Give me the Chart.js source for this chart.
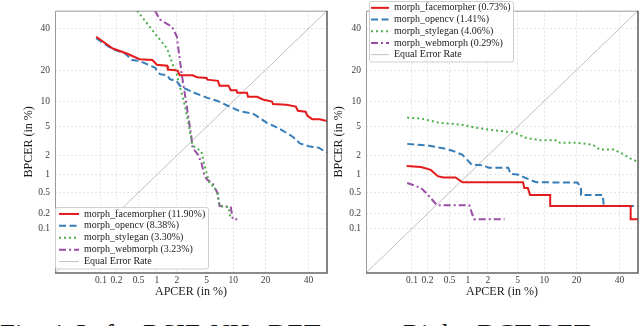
<!DOCTYPE html>
<html>
<head>
<meta charset="utf-8">
<script src="https://cdn.jsdelivr.net/npm/chart.js@4.4.1/dist/chart.umd.min.js"></script>
<style>
  html, body { margin: 0; padding: 0; background: #fff; width: 640px; height: 326px; overflow: hidden; }
  .panel { position: absolute; top: 0; }
  .cap { position: absolute; top: 321px; font-family: 'Liberation Serif', serif; font-size: 27px; line-height: 27px; color: #111; white-space: nowrap; }
</style>
</head>
<body>
<div class="panel" style="left:0"><canvas id="det-left" width="330" height="300"></canvas></div>
<div class="panel" style="left:330px"><canvas id="det-right" width="310" height="300"></canvas></div>
<span class="cap" style="left:0">Fig. 4. Left:</span>
<span class="cap" style="left:143px">RSIE-NH</span>
<span class="cap" style="left:268px">DET curves.</span>
<span class="cap" style="left:403px">Right: DCT-DET curves.</span>
<script>
// axis ticks (both axes, both plots), values in %
const tickPct = [0.1, 0.2, 0.5, 1, 2, 5, 10, 20, 40];
const tickText = ['0.1', '0.2', '0.5', '1', '2', '5', '10', '20', '40'];
const rangePct = [0.01, 50];

// Left: RSIE-NH  (APCER %, BPCER %)
const leftFaceApcer = [0.08, 0.17, 0.31, 0.52, 0.85, 1.0, 1.44, 1.48, 2.06, 2.2, 3.3, 3.8, 5.0, 5.1, 6.8, 7.1, 8.9, 9.4, 10.8, 11.0, 13.7, 14, 17, 19, 22.6, 23, 29, 33.5, 34.5, 38.5, 39.5, 42, 46, 50];
const leftFaceBpcer = [35.6, 29.6, 27.2, 24.6, 24.2, 22.2, 21.8, 20.2, 19.8, 18.0, 18.0, 17.3, 17.0, 16.4, 16.0, 14.4, 14.4, 13.0, 13.0, 12.2, 12.2, 11.1, 11.1, 10.4, 9.9, 9.3, 9.1, 8.7, 7.8, 7.6, 6.8, 6.2, 6.2, 5.9];
const leftOpenApcer = [0.08, 0.17, 0.29, 0.38, 0.52, 0.72, 0.93, 1.12, 1.44, 1.58, 2.0, 2.2, 2.6, 2.9, 3.6, 5.0, 6.6, 8.5, 11.7, 15.6, 20.6, 24.6, 27, 32, 35.5, 40.7, 45.5, 50];
const leftOpenBpcer = [34.8, 29.2, 27.2, 24.2, 23.8, 22.2, 21.0, 18.4, 18.0, 16.6, 15.9, 14.4, 13.5, 13.0, 12.1, 10.9, 10.1, 9.0, 7.7, 7.2, 5.6, 4.9, 4.5, 3.7, 3.0, 2.7, 2.6, 2.2];
const leftStyleApcer = [0.47, 0.93, 1.44, 1.75, 2.0, 2.2, 2.6, 2.9, 3.3, 4.3, 4.6, 5.0, 5.4, 6.1, 6.7, 7.1, 8.9, 9.4];
const leftStyleBpcer = [50, 37.4, 29.6, 22.2, 18.4, 14.2, 8.9, 5.6, 2.8, 2.3, 1.55, 1.05, 0.72, 0.63, 0.49, 0.28, 0.27, 0.155];
const leftWebApcer = [0.93, 1.12, 1.7, 2.0, 2.35, 2.75, 3.2, 3.3, 3.9, 4.3, 4.7, 5.1, 5.8, 6.7, 7.1, 9.4, 9.9, 11];
const leftWebBpcer = [50, 45, 41, 35.8, 18.4, 8.9, 3.5, 2.6, 2.05, 1.55, 0.95, 0.82, 0.74, 0.49, 0.28, 0.27, 0.155, 0.155];
const leftLabels = ['morph_facemorpher (11.90%)', 'morph_opencv (8.38%)', 'morph_stylegan (3.30%)', 'morph_webmorph (3.23%)', 'Equal Error Rate'];

// Right: DCT
const rightFaceApcer = [0.078, 0.15, 0.23, 0.31, 0.39, 0.63, 0.82, 5.8, 6.0, 6.6, 7.0, 11.5, 11.5, 46, 46, 50];
const rightFaceBpcer = [1.38, 1.33, 1.2, 0.95, 0.9, 0.9, 0.75, 0.75, 0.6, 0.6, 0.45, 0.45, 0.28, 0.28, 0.155, 0.155];
const rightOpenApcer = [0.08, 0.2, 0.39, 0.56, 0.82, 1.15, 1.75, 2.05, 3.8, 4.1, 5.3, 5.8, 8.2, 20.4, 21.8, 21.8, 31.5, 32, 50];
const rightOpenBpcer = [2.95, 2.8, 2.55, 2.35, 2.05, 1.45, 1.42, 1.3, 1.3, 1.03, 1.0, 0.92, 0.75, 0.74, 0.6, 0.45, 0.45, 0.28, 0.28];
const rightStyleApcer = [0.08, 0.15, 0.33, 0.8, 1.25, 2.0, 3.0, 4.6, 6.1, 9.3, 13.5, 14.3, 20.5, 24, 27, 30, 37, 42, 46, 50];
const rightStyleBpcer = [6.5, 6.3, 5.6, 5.3, 4.9, 4.6, 4.4, 4.2, 3.6, 3.3, 3.3, 3.05, 3.05, 2.95, 2.85, 2.45, 2.45, 2.1, 1.8, 1.6];
const rightWebApcer = [0.08, 0.15, 0.2, 0.3, 1.05, 1.15, 1.25, 3.4];
const rightWebBpcer = [0.73, 0.6, 0.46, 0.29, 0.29, 0.21, 0.155, 0.155];
const rightLabels = ['morph_facemorpher (0.73%)', 'morph_opencv (1.41%)', 'morph_stylegan (4.06%)', 'morph_webmorph (0.29%)', 'Equal Error Rate'];

const eerPct = [0.01, 50];

const SERIF = "'Liberation Serif', 'DejaVu Serif', serif";
const colors = ['#e41a1c', '#377eb8', '#4daf4a', '#984ea3', '#b0b0b0'];
const dashes = [[], [7, 3.5], [2, 3], [7, 3, 2, 3], []];
const widths = [2, 2, 2, 2, 0.8];

// normal deviate for a percentage (DET axes are probit-scaled)
function probit(pct) {
  const p = pct / 100;
  const a = [-3.969683028665376e+01, 2.209460984245205e+02, -2.759285104469687e+02, 1.383577518672690e+02, -3.066479806614716e+01, 2.506628277459239e+00];
  const b = [-5.447609879822406e+01, 1.615858368580409e+02, -1.556989798598866e+02, 6.680131188771972e+01, -1.328068155288572e+01];
  const c = [-7.784894002430293e-03, -3.223964580411365e-01, -2.400758277161838e+00, -2.549671348283726e+00, 4.374664141464968e+00, 2.938163982698783e+00];
  const d = [7.784695709041462e-03, 3.224671290700398e-01, 2.445134137142996e+00, 3.754408661907416e+00];
  const lo = 0.02425;
  if (p < lo) {
    const q = Math.sqrt(-2 * Math.log(p));
    return (((((c[0]*q+c[1])*q+c[2])*q+c[3])*q+c[4])*q+c[5]) / ((((d[0]*q+d[1])*q+d[2])*q+d[3])*q+1);
  }
  if (p <= 1 - lo) {
    const q = p - 0.5, r = q * q;
    return (((((a[0]*r+a[1])*r+a[2])*r+a[3])*r+a[4])*r+a[5])*q / (((((b[0]*r+b[1])*r+b[2])*r+b[3])*r+b[4])*r+1);
  }
  const q = Math.sqrt(-2 * Math.log(1 - p));
  return -(((((c[0]*q+c[1])*q+c[2])*q+c[3])*q+c[4])*q+c[5]) / ((((d[0]*q+d[1])*q+d[2])*q+d[3])*q+1);
}

const pts = (xs, ys) => xs.map((x, i) => ({ x: probit(x), y: probit(ys[i]) }));

function makeDatasets(series, labels) {
  return series.map((s, i) => ({
    label: labels[i],
    data: pts(s[0], s[1]),
    borderColor: colors[i],
    borderWidth: widths[i],
    borderDash: dashes[i],
    pointRadius: 0,
    tension: 0,
    fill: false,
  }));
}

function probitAxis(axis, title, size, titlePad) {
  return {
    type: 'linear',
    min: probit(rangePct[0]),
    max: probit(rangePct[1]),
    afterBuildTicks: s => { s.ticks = tickPct.map(v => ({ value: probit(v) })); },
    afterFit: s => { if (axis === 'y') s.width = size; else s.height = size; },
    ticks: {
      autoSkip: false, maxRotation: 0, padding: axis === 'y' ? 5 : 2,
      color: '#3a3a3a', font: { family: SERIF, size: 9.5 },
      callback: (v, i) => tickText[i],
    },
    grid: { color: '#dddddd', lineWidth: 0.8, drawTicks: false },
    border: { display: false, dash: [2, 2] },
    title: { display: true, text: title, color: '#1a1a1a', font: { family: SERIF, size: 12 }, padding: titlePad },
  };
}

// frame round the plot area, darker on bottom/right like the original
const frame = {
  id: 'frame',
  afterDatasetsDraw(chart) {
    const { ctx, chartArea: a } = chart;
    ctx.save();
    ctx.strokeStyle = '#9a9a9a'; ctx.lineWidth = 1;
    ctx.beginPath();
    ctx.moveTo(a.left + 0.5, a.bottom); ctx.lineTo(a.left + 0.5, a.top + 0.5); ctx.lineTo(a.right, a.top + 0.5);
    ctx.stroke();
    ctx.strokeStyle = '#666'; ctx.lineWidth = 1.6;
    ctx.beginPath();
    ctx.moveTo(a.left, a.bottom); ctx.lineTo(a.right, a.bottom); ctx.lineTo(a.right, a.top);
    ctx.stroke();
    ctx.restore();
  }
};

// legend drawn inside the plot area
const insideLegend = {
  id: 'insideLegend',
  afterDraw(chart, args, o) {
    const { ctx } = chart;
    const sets = chart.data.datasets;
    const h = o.pad * 2 + sets.length * o.rowH;
    ctx.save();
    ctx.fillStyle = 'rgba(255,255,255,0.9)';
    ctx.strokeStyle = '#cfcfcf';
    ctx.lineWidth = 1;
    ctx.beginPath();
    ctx.roundRect(o.x + 0.5, o.y + 0.5, o.w, h, 2);
    ctx.fill(); ctx.stroke();
    ctx.font = '10px ' + SERIF;
    ctx.textBaseline = 'middle';
    sets.forEach((ds, i) => {
      const y = o.y + o.pad + o.rowH * (i + 0.5);
      ctx.strokeStyle = ds.borderColor;
      ctx.lineWidth = ds.borderWidth;
      ctx.setLineDash(ds.borderDash);
      ctx.beginPath(); ctx.moveTo(o.x + o.sx, y); ctx.lineTo(o.x + o.sx + o.sw, y); ctx.stroke();
      ctx.setLineDash([]);
      ctx.fillStyle = '#222';
      ctx.fillText(ds.label, o.x + o.tx, y);
    });
    ctx.restore();
  }
};

function detChart(id, series, labels, yWidth, yTitlePad, padding, legend) {
  return new Chart(document.getElementById(id), {
    type: 'line',
    data: { datasets: makeDatasets(series, labels) },
    options: {
      responsive: false,
      animation: false,
      layout: { padding },
      plugins: { legend: { display: false }, tooltip: { enabled: false }, insideLegend: legend },
      scales: {
        x: probitAxis('x', 'APCER (in %)', 27, { top: 0, bottom: 1 }),
        y: probitAxis('y', 'BPCER (in %)', yWidth, { top: yTitlePad, bottom: 0 }),
      },
    },
    plugins: [frame, insideLegend],
  });
}

detChart('det-left', [
  [leftFaceApcer, leftFaceBpcer],
  [leftOpenApcer, leftOpenBpcer],
  [leftStyleApcer, leftStyleBpcer],
  [leftWebApcer, leftWebBpcer],
  [eerPct, eerPct],
], leftLabels, 55, 22, { top: 1, right: 3, bottom: 0, left: 0 },
  { x: 55, y: 207, w: 153, pad: 1, rowH: 11.9, sx: 4, sw: 20, tx: 29 });

detChart('det-right', [
  [rightFaceApcer, rightFaceBpcer],
  [rightOpenApcer, rightOpenBpcer],
  [rightStyleApcer, rightStyleBpcer],
  [rightWebApcer, rightWebBpcer],
  [eerPct, eerPct],
], rightLabels, 36, 2, { top: 1, right: 2, bottom: 0, left: 0 },
  { x: 39, y: 1, w: 144, pad: 1, rowH: 11.7, sx: 2, sw: 18, tx: 25 });
</script>
</body>
</html>
